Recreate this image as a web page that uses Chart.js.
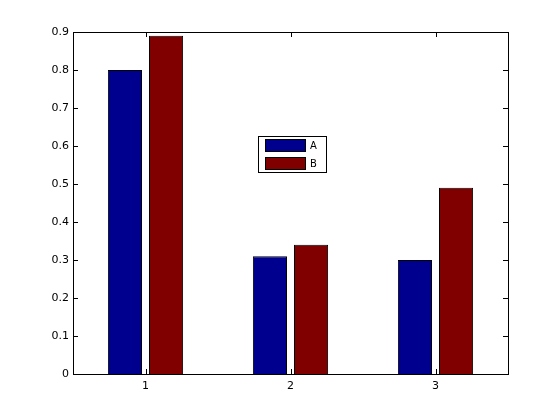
<!DOCTYPE html>
<html>
<head>
<meta charset="utf-8">
<script src="https://cdn.jsdelivr.net/npm/chart.js@4/dist/chart.umd.min.js"></script>
<style>
  html, body { margin: 0; padding: 0; background: #fff; }
  #wrap { width: 560px; height: 420px; }
</style>
</head>
<body>
<div id="wrap"><canvas id="barChart" width="560" height="420"></canvas></div>
<script>
// data
const categories = ['1', '2', '3'];
const seriesA = [0.80, 0.31, 0.30];
const seriesB = [0.89, 0.34, 0.49];
const yTicks = [0, 0.1, 0.2, 0.3, 0.4, 0.5, 0.6, 0.7, 0.8, 0.9];

const tickFont = { family: 'DejaVu Sans, sans-serif', size: 11 };

// box round the axes plus short ticks pointing inward (matlab look)
const axesBox = {
  id: 'axesBox',
  afterDraw(chart) {
    const c = chart.ctx, a = chart.chartArea;
    const x = chart.scales.x, y = chart.scales.y;
    const len = 5;
    c.save();
    c.strokeStyle = '#000';
    c.lineWidth = 1;
    c.strokeRect(a.left + 0.5, a.top + 0.5, a.right - a.left, a.bottom - a.top);
    c.beginPath();
    yTicks.forEach(v => {
      const py = Math.round(y.getPixelForValue(v)) + 0.5;
      c.moveTo(a.left, py); c.lineTo(a.left + len, py);
      c.moveTo(a.right, py); c.lineTo(a.right - len, py);
    });
    categories.forEach((cat, i) => {
      const px = Math.round(x.getPixelForValue(i)) + 0.5;
      c.moveTo(px, a.bottom); c.lineTo(px, a.bottom - len);
      c.moveTo(px, a.top); c.lineTo(px, a.top + len);
    });
    c.stroke();
    c.restore();
  }
};

// legend box drawn inside the plot area
const boxLegend = {
  id: 'boxLegend',
  afterDraw(chart) {
    const c = chart.ctx;
    const bx = 258, by = 136, bw = 68, bh = 36;
    c.save();
    c.fillStyle = '#fff';
    c.fillRect(bx, by, bw, bh);
    c.strokeStyle = '#000';
    c.lineWidth = 1;
    c.strokeRect(bx + 0.5, by + 0.5, bw, bh);
    c.font = '10px DejaVu Sans, sans-serif';
    c.textBaseline = 'middle';
    chart.data.datasets.forEach((ds, i) => {
      const sy = by + 3 + i * 18;
      c.fillStyle = ds.backgroundColor;
      c.fillRect(bx + 7, sy, 41, 13);
      c.strokeRect(bx + 7.5, sy + 0.5, 40, 12);
      c.fillStyle = '#000';
      c.fillText(ds.label, bx + 52, sy + 7);
    });
    c.restore();
  }
};

const ctx = document.getElementById('barChart').getContext('2d');
const barChart = new Chart(ctx, {
  type: 'bar',
  data: {
    labels: categories,
    datasets: [
      { label: 'A', data: seriesA, backgroundColor: '#00008f', borderColor: '#000', borderWidth: 1 },
      { label: 'B', data: seriesB, backgroundColor: '#800000', borderColor: '#000', borderWidth: 1 }
    ]
  },
  options: {
    responsive: false,
    animation: false,
    categoryPercentage: 0.567,
    barPercentage: 0.83,
    layout: { padding: { left: 0, top: 32, right: 52, bottom: 0 } },
    plugins: {
      legend: { display: false },
      tooltip: { enabled: false }
    },
    scales: {
      x: {
        offset: true,
        grid: { display: false, drawTicks: false, tickLength: 0 },
        border: { display: false },
        ticks: { color: '#000', font: tickFont, padding: 6, maxRotation: 0 },
        afterFit: s => { s.height = 46; }
      },
      y: {
        min: 0,
        max: 0.9,
        grid: { display: false, drawTicks: false, tickLength: 0 },
        border: { display: false },
        afterBuildTicks: s => { s.ticks = yTicks.map(v => ({ value: v })); },
        ticks: { color: '#000', font: tickFont, padding: 4, callback: v => String(Math.round(v * 10) / 10) },
        afterFit: s => { s.width = 73; }
      }
    }
  },
  plugins: [axesBox, boxLegend]
});
</script>
</body>
</html>
